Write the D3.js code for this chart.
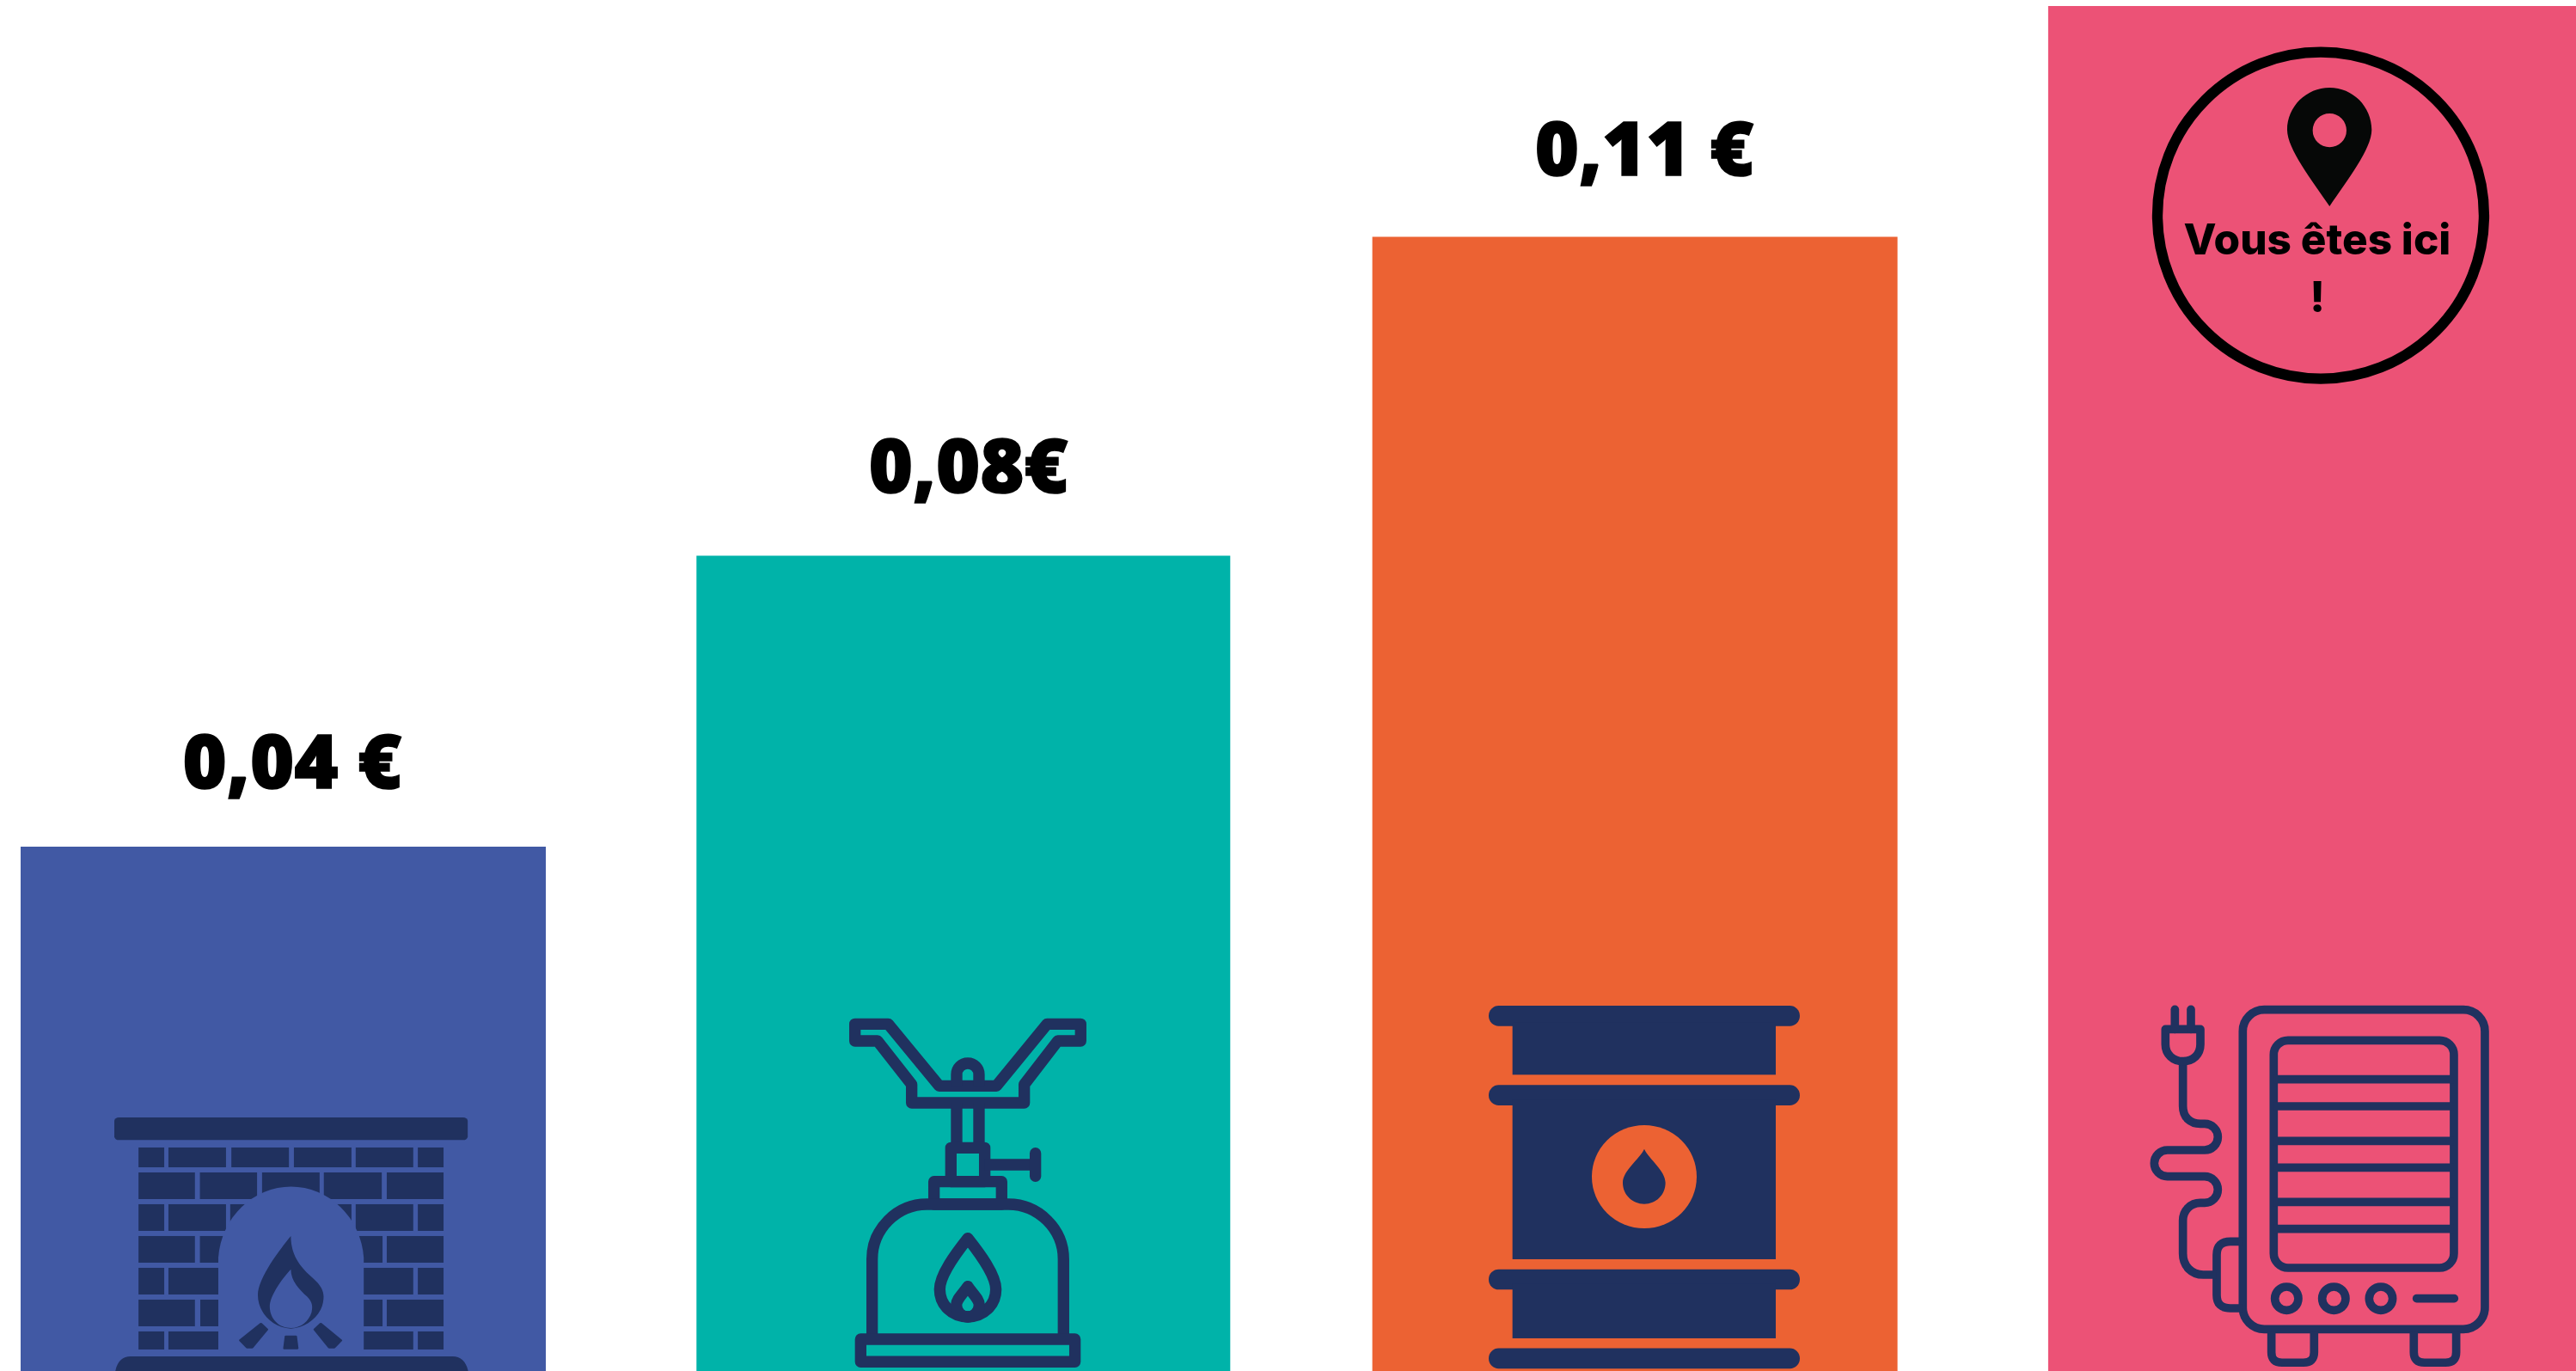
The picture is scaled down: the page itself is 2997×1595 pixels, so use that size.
<!DOCTYPE html>
<html>
<head>
<meta charset="utf-8">
<script src="https://cdn.jsdelivr.net/npm/d3@7"></script>
<style>
  html, body { margin: 0; padding: 0; background: #fff; overflow: hidden; }
  svg { display: block; }
</style>
</head>
<body>
<script>
const categories = ["Bois", "Gaz", "Fioul", "Electricite"];
// the picture is not drawn to a linear scale, the last bar has no printed value (estimate)
const values = [0.04, 0.08, 0.11, 0.15];
const labels = ["0,04 €", "0,08€", "0,11 €", null];
const colors = ["#4159a4", "#00b3a9", "#ec6233", "#ec5276"];
const navy = "#20315f";

const width = 2997;
const height = 1595;

const svg = d3.select("body").append("svg")
  .attr("width", width)
  .attr("height", height);

const x = d3.scaleBand()
  .domain(categories)
  .range([24, 24 + 786.3 * 3 + 611])
  .paddingInner(1 - 611 / 786.3)
  .paddingOuter(0);

const y = d3.scaleLinear()
  .domain(values)
  .range([985, 646.5, 275.5, 7]);

const extraWidth = [0, 10, 0, 4];

svg.selectAll("rect.bar")
  .data(categories)
  .enter()
  .append("rect")
  .attr("class", "bar")
  .attr("x", d => x(d))
  .attr("y", (d, i) => y(values[i]))
  .attr("width", (d, i) => x.bandwidth() + extraWidth[i])
  .attr("height", (d, i) => height - y(values[i]))
  .attr("fill", (d, i) => colors[i]);

const labelDx = [10.5, 11, 11];
const labelDy = [68, 74, 72];

svg.selectAll("text.value")
  .data(categories.slice(0, 3))
  .enter()
  .append("text")
  .attr("class", "value")
  .attr("x", (d, i) => x(d) + x.bandwidth() / 2 + labelDx[i])
  .attr("y", (d, i) => y(values[i]) - labelDy[i])
  .attr("text-anchor", "middle")
  .attr("font-family", "'Open Sans'")
  .attr("font-weight", 800)
  .attr("font-size", 87.5)
  .attr("fill", "#000")
  .attr("stroke", "#000")
  .attr("stroke-width", 1.5)
  .text((d, i) => labels[i]);

// fireplace, units are the crop's
const fire = svg.append("g")
  .attr("transform", "translate(0,1250) scale(0.4464,0.3333)")
  .attr("fill", navy);

fire.append("rect").attr("x", 298).attr("y", 150).attr("width", 921).attr("height", 79).attr("rx", 12);

const brickRows = [
  [255, 69, [[361, 428], [439, 589], [603, 753], [766, 916], [927, 1077], [1089, 1156]]],
  [342, 93, [[361, 508], [521, 670], [683, 833], [844, 995], [1008, 1156]]],
  [453, 93, [[361, 428], [439, 589], [600, 750], [766, 916], [927, 1077], [1089, 1156]]],
  [564, 93, [[361, 508], [521, 670], [844, 997], [1008, 1156]]],
  [675, 93, [[361, 428], [439, 589], [927, 1077], [1089, 1156]]],
  [786, 93, [[361, 508], [522, 670], [844, 997], [1008, 1156]]],
  [897, 63, [[361, 428], [439, 589], [927, 1077], [1089, 1156]]],
];
brickRows.forEach(([top, h, bricks]) => {
  bricks.forEach(([a, b]) => {
    fire.append("rect").attr("x", a).attr("y", top).attr("width", b - a).attr("height", h);
  });
});

fire.append("path")
  .attr("d", "M569,975 L569,640 A190,268 0 0 1 948,640 L948,975 Z")
  .attr("fill", colors[0]);

fire.append("path")
  .attr("fill-rule", "evenodd")
  .attr("d", "M758,564 C758,640 790,680 815,710 C840,740 845,760 843,785 C840,840 800,885 758,887 C710,885 672,830 672,770 C672,710 730,610 758,564 Z "
    + "M758,680 C758,720 780,750 800,775 C815,795 815,810 812,830 C805,860 785,885 758,885 C725,885 703,850 703,810 C703,770 740,705 758,680 Z");

fire.append("path").attr("stroke", navy).attr("stroke-width", 6).attr("stroke-linejoin", "round")
  .attr("d", "M680,870 L696,890 L657,953 L644,953 L626,928 Z M836,870 L820,890 L858,953 L871,953 L889,928 Z M745,914 L771,914 L775,956 L741,956 Z");

fire.append("path").attr("d", "M300,1040 C305,1000 320,984 340,984 L1180,984 C1200,984 1215,1000 1221,1040 Z");

// stove, crop units, 1 unit = 1/3 px
const stove = svg.append("g")
  .attr("transform", "translate(950,1150) scale(0.3333)")
  .attr("fill", "none")
  .attr("stroke", navy)
  .attr("stroke-width", 40)
  .attr("stroke-linejoin", "round");

const stovePaths = [
  "M134,124 L250,124 L428,340 L628,340 L805,124 L922,124 L922,183 L842,183 L725,335 L725,399 L332,399 L332,335 L213,183 L134,183 Z",
  "M489,340 L489,300 A39,39 0 0 1 567,300 L567,340",
  "M489,399 L489,556 M567,399 L567,556",
  "M469,556 L587,556 L587,674 L469,674 Z",
  "M587,615 L764,615",
  "M410,674 L646,674 L646,753 L410,753 Z",
  "M194,1224 L194,945 C194,840 280,753 385,753 L670,753 C775,753 862,840 862,945 L862,1224",
  "M154,1224 L902,1224 L902,1303 L154,1303 Z",
  "M528,872 C570,925 626,1000 626,1050 C626,1105 583,1146 528,1146 C473,1146 430,1105 430,1050 C430,1000 486,925 528,872 Z",
  "M528,1040 C545,1065 568,1085 568,1105 C568,1130 548,1146 528,1146 C508,1146 488,1130 488,1105 C488,1085 511,1065 528,1040 Z",
];
stovePaths.forEach(d => stove.append("path").attr("d", d));
stove.append("path").attr("d", "M764,575 L764,655").attr("stroke-linecap", "round");

// barrel
const barrel = svg.append("g")
  .attr("transform", "translate(1700,1140) scale(0.3333)")
  .attr("fill", navy);

[90, 367, 1010, 1286].forEach(top => {
  barrel.append("rect").attr("x", 96).attr("y", top).attr("width", 1086).attr("height", 71).attr("rx", 35);
});
[[150, 331], [420, 975], [1060, 1251]].forEach(([a, b]) => {
  barrel.append("rect").attr("x", 179).attr("y", a).attr("width", 919).attr("height", b - a);
});
barrel.append("ellipse").attr("cx", 639).attr("cy", 687).attr("rx", 183).attr("ry", 180).attr("fill", colors[2]);
barrel.append("path")
  .attr("d", "M639,590 C655,625 713,665 713,708 C713,750 680,782 639,782 C598,782 564,750 564,708 C564,665 623,625 639,590 Z");

// heater
const heater = svg.append("g")
  .attr("transform", "translate(2470,1140) scale(0.3333)")
  .attr("fill", "none")
  .attr("stroke", navy)
  .attr("stroke-width", 29)
  .attr("stroke-linejoin", "round");

heater.append("rect").attr("x", 418).attr("y", 104).attr("width", 845).attr("height", 1115).attr("rx", 75);
heater.append("rect").attr("x", 526).attr("y", 211).attr("width", 629).attr("height", 794).attr("rx", 50);
[347, 441, 562, 655, 775, 869].forEach(yy => {
  heater.append("line").attr("x1", 526).attr("x2", 1155).attr("y1", yy).attr("y2", yy);
});
[571, 736, 900].forEach(cx => {
  heater.append("circle").attr("cx", cx).attr("cy", 1112).attr("r", 41);
});
const heaterPaths = [
  "M518,1225 L518,1300 Q518,1336 555,1336 L630,1336 Q667,1336 667,1300 L667,1225",
  "M1015,1225 L1015,1300 Q1015,1336 1052,1336 L1126,1336 Q1163,1336 1163,1300 L1163,1225",
  "M418,913 L375,913 Q327,913 327,960 L327,1100 Q327,1146 375,1146 L418,1146",
  "M209,285 L209,440 C209,480 235,502 270,502 L285,502 A46,46 0 0 1 285,594 L155,594 A46,46 0 0 0 155,686 L285,686 A46,46 0 0 1 285,778 L270,778 C235,778 209,805 209,840 L209,955 C209,1000 240,1029 280,1029 L327,1029",
  "M148,172 L270,172 L270,225 C270,260 245,284 209,284 C175,284 148,260 148,225 Z",
];
heaterPaths.forEach(d => heater.append("path").attr("d", d));
["M181,103 L181,172", "M237,103 L237,172", "M1025,1112 L1156,1112"].forEach(d => {
  heater.append("path").attr("d", d).attr("stroke-linecap", "round");
});

// "vous etes ici" badge
const badge = svg.append("g")
  .attr("transform", "translate(2470,0) scale(0.3333)");

badge.append("circle")
  .attr("cx", 690).attr("cy", 752).attr("r", 570)
  .attr("fill", "none").attr("stroke", "#000").attr("stroke-width", 37);

badge.append("path")
  .attr("fill", "#060807")
  .attr("fill-rule", "evenodd")
  .attr("d", "M721,720 C660,630 573,520 573,453 C573,372 640,306 721,306 C802,306 868,372 868,453 C868,520 782,630 721,720 Z "
    + "M721,396 A59,59 0 1 0 721,514 A59,59 0 1 0 721,396 Z");

svg.append("text")
  .attr("x", 2696).attr("y", 296)
  .attr("text-anchor", "middle")
  .attr("font-family", "Inter")
  .attr("font-weight", 800)
  .attr("font-size", 49.5)
  .attr("fill", "#000")
  .text("Vous êtes ici");

svg.append("text")
  .attr("x", 2696).attr("y", 363)
  .attr("text-anchor", "middle")
  .attr("font-family", "Inter")
  .attr("font-weight", 800)
  .attr("font-size", 49.5)
  .attr("fill", "#000")
  .text("!");
</script>
</body>
</html>
